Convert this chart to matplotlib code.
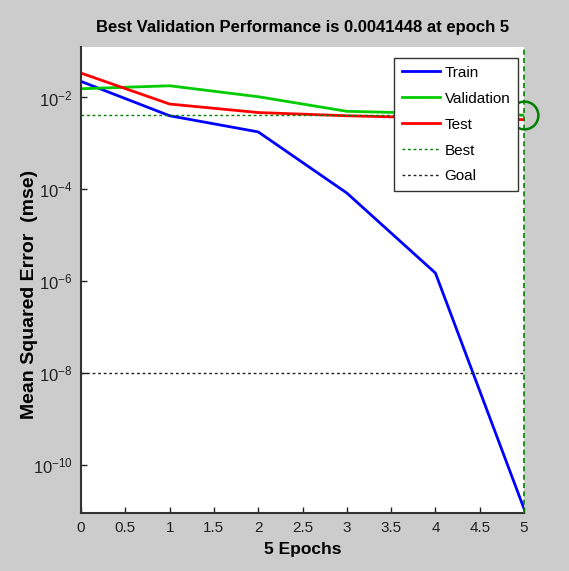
import numpy as np
import matplotlib
matplotlib.use('Agg')
import matplotlib.pyplot as plt

# training record of the network (mse per epoch)
epochs = [0, 1, 2, 3, 4, 5]
train_perf = [0.0224, 0.0040, 0.00178, 8.3e-5, 1.5e-6, 1.1e-11]
val_perf = [0.0155, 0.0180, 0.0104, 0.0050, 0.0045, 0.0041448]
test_perf = [0.034, 0.0072, 0.0047, 0.0040, 0.0036, 0.0033]
best_epoch = 5
best_perf = 0.0041448
goal = 1e-8

plt.rcParams['font.family'] = ['Liberation Sans', 'DejaVu Sans']

fig = plt.figure(figsize=(5.69, 5.71), dpi=100, facecolor='#cccccc')
ax = fig.add_axes([0.1424, 0.1016, 0.7786, 0.8161])

ax.semilogy(epochs, train_perf, color='#0000ff', lw=2, label='Train')
ax.semilogy(epochs, val_perf, color='#00cc00', lw=2, label='Validation')
ax.semilogy(epochs, test_perf, color='#ff0000', lw=2, label='Test')
ax.axhline(best_perf, color='#008000', ls=(0, (2, 2)), lw=1, label='Best')
ax.axvline(best_epoch, color='#008000', ls=(0, (3, 2)), lw=1.2, clip_on=False, zorder=3)
ax.axhline(goal, color='#222222', ls=(0, (2, 2)), lw=1, label='Goal')
ax.plot([best_epoch], [best_perf], 'o', ms=20, mfc='none', mec='#008000', mew=1.8,
        clip_on=False, zorder=3)

ax.set_xlim(0, 5)
ax.set_ylim(10 ** -11.05, 10 ** -0.9)
ax.set_xticks(np.arange(0, 5.01, 0.5))
ax.set_xticklabels(['0', '0.5', '1', '1.5', '2', '2.5', '3', '3.5', '4', '4.5', '5'])
ax.set_yticks([1e-10, 1e-8, 1e-6, 1e-4, 1e-2])
ax.yaxis.set_minor_locator(matplotlib.ticker.NullLocator())
ax.tick_params(direction='in', length=4, width=1, labelsize=11, colors='#222222', pad=6)
ax.tick_params(axis='y', labelsize=12)
ax.spines['top'].set_visible(False)
ax.spines['right'].set_visible(False)
for s in ['left', 'bottom']:
    ax.spines[s].set_linewidth(1.5)
    ax.spines[s].set_color('#333333')

ax.set_title('Best Validation Performance is 0.0041448 at epoch 5',
             fontsize=12, fontweight='bold', pad=11)
ax.set_xlabel('5 Epochs', fontsize=12.5, fontweight='bold', labelpad=5)
ax.set_ylabel('Mean Squared Error  (mse)', fontsize=14, fontweight='bold')
ax.yaxis.set_label_coords(-0.097, 0.468)

leg = ax.legend(loc='upper right', bbox_to_anchor=(0.9865, 0.976), borderaxespad=0,
                fontsize=11, fancybox=False, framealpha=1, edgecolor='#333333',
                handlelength=2.5, handletextpad=0.3, labelspacing=0.78, borderpad=0.5)
leg.set_zorder(5)
leg.get_frame().set_linewidth(1)

fig.savefig('out.png', dpi=100, facecolor=fig.get_facecolor())
